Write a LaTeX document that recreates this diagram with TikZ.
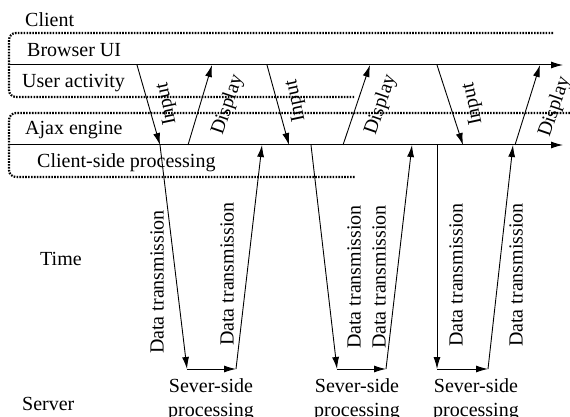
\documentclass[tikz,border=0pt]{standalone}
\usepackage{fontspec}
\setmainfont{Liberation Serif}
\usetikzlibrary{arrows.meta}

\begin{document}
\begin{tikzpicture}[x=1pt, y=-1pt,
  every node/.style={font=\fontsize{20}{24}\selectfont, inner sep=0pt},
  tag/.style={anchor=base west},
  lane/.style={line width=1pt, -{Latex[length=12pt,width=7pt]}},
  flow/.style={line width=0.9pt, -{Latex[length=12pt,width=7pt]}},
  zone/.style={line width=2.2pt, dash pattern=on 1.6pt off 1.3pt, rounded corners=7pt}]
  \useasboundingbox (0,0) rectangle (570,417);
  \draw[zone] (553,33) -| (9,97) -- (355,97);
  \draw[zone] (570,113) -| (9,177) -- (355,177);
  \coordinate (b0) at (10,65); \coordinate (b9) at (563,65);
  \coordinate (a0) at (10,145); \coordinate (a9) at (563,145);
  \draw[lane] (b0) -- (b9); \draw[lane] (a0) -- (a9);
  \node[tag] (client) at (25,27) {Client};
  \node[tag] (browser) at (27,57) {Browser UI};
  \node[tag] (user) at (22,88) {User activity};
  \node[tag] (ajax) at (25,135) {Ajax engine};
  \node[tag] (csp) at (37,167) {Client-side processing};
  \node[tag] (time) at (40,265) {Time};
  \node[tag] (server) at (22,410) {Server};
  % first round trip
  \coordinate (b1i) at (137,65); \coordinate (a1i) at (160,145);
  \coordinate (s1a) at (187,369); \coordinate (s1b) at (236,369);
  \coordinate (a1u) at (262,145); \coordinate (a1d) at (188,145); \coordinate (b1d) at (212,65);
  \draw[flow] (b1i) -- (a1i); \draw[flow] (a1i) -- (s1a); \draw[flow] (s1a) -- (s1b);
  \draw[flow] (s1b) -- (a1u); \draw[flow] (a1d) -- (b1d);
  \node[rotate=102] (in1) at (167,104) {Input};
  \node[rotate=71] (dis1) at (228,105) {Display};
  \node[rotate=90] (tx1) at (157,282) {Data transmission};
  \node[rotate=90] (rx1) at (227,274) {Data transmission};
  \node[align=center, anchor=north] (sp1) at (211,378) {Sever-side\\processing};
  % second round trip
  \coordinate (b2i) at (267,65); \coordinate (a2i) at (289,145); \coordinate (a2n) at (311,145);
  \coordinate (s2a) at (337,369); \coordinate (s2b) at (386,369);
  \coordinate (a2u) at (412,145); \coordinate (a2d) at (343,145); \coordinate (b2d) at (370,65);
  \draw[flow] (b2i) -- (a2i); \draw[flow] (a2n) -- (s2a); \draw[flow] (s2a) -- (s2b);
  \draw[flow] (s2b) -- (a2u); \draw[flow] (a2d) -- (b2d);
  \node[rotate=102] (in2) at (296,101) {Input};
  \node[rotate=71] (dis2) at (381,105) {Display};
  \node[rotate=90] (tx2) at (354,277) {Data transmission};
  \node[rotate=90] (rx2) at (379,277) {Data transmission};
  \node[align=center, anchor=north] (sp2) at (357,378) {Sever-side\\processing};
  % third round trip
  \coordinate (b3i) at (437,65); \coordinate (a3i) at (463,145); \coordinate (a3n) at (437,145);
  \coordinate (s3a) at (437,369); \coordinate (s3b) at (488,369);
  \coordinate (a3u) at (513,145); \coordinate (a3d) at (515,145); \coordinate (b3d) at (540,65);
  \draw[flow] (b3i) -- (a3i); \draw[flow] (a3n) -- (s3a); \draw[flow] (s3a) -- (s3b);
  \draw[flow] (s3b) -- (a3u); \draw[flow] (a3d) -- (b3d);
  \node[rotate=102] (in3) at (473,104) {Input};
  \node[rotate=71] (dis3) at (555,107) {Display};
  \node[rotate=90] (tx3) at (456,275) {Data transmission};
  \node[rotate=90] (rx3) at (516,275) {Data transmission};
  \node[align=center, anchor=north] (sp3) at (476,378) {Sever-side\\processing};
\end{tikzpicture}
\end{document}
